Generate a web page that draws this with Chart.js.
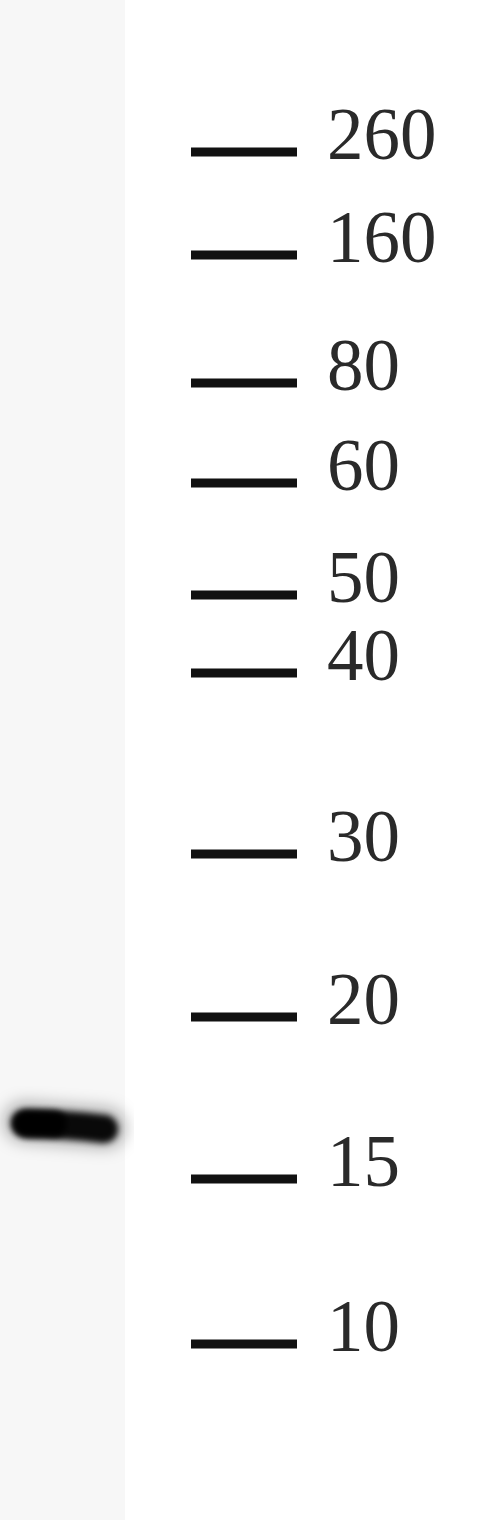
<!DOCTYPE html>
<html>
<head>
<meta charset="utf-8">
<script src="https://cdn.jsdelivr.net/npm/chart.js@4"></script>
<style>
  html, body { margin: 0; padding: 0; background: #fff; }
  #wrap { width: 499px; height: 1520px; position: relative; }
</style>
</head>
<body>
<div id="wrap"><canvas id="blot"></canvas></div>
<script>
// Marker ladder (kDa) and where each one ran on the membrane (px from top)
const markerLabels = ['260', '160', '80', '60', '50', '40', '30', '20', '15', '10'];
const markerMigration = [152, 255, 383, 483, 595, 673, 854, 1017, 1179, 1344];

// Sample lane: one band
const bandMigration = [1126];

// Layout of the lanes (px across the blot)
const sampleLaneX = 64;
const markerLaneX = 244;
const labelX = 327;

// Build a soft blurred blob for the band
function makeBandImage() {
  const c = document.createElement('canvas');
  c.width = 140;
  c.height = 80;
  const g = c.getContext('2d');
  g.lineCap = 'round';
  // halo
  g.filter = 'blur(8px)';
  g.strokeStyle = 'rgba(0,0,0,0.3)';
  g.lineWidth = 40;
  g.beginPath();
  g.moveTo(30, 36);
  g.lineTo(112, 42);
  g.stroke();
  // dark core
  g.filter = 'blur(3px)';
  g.strokeStyle = 'rgba(0,0,0,0.95)';
  g.lineWidth = 28;
  g.beginPath();
  g.moveTo(34, 38);
  g.quadraticCurveTo(70, 38, 110, 43);
  g.stroke();
  g.lineWidth = 26;
  g.beginPath();
  g.moveTo(30, 37);
  g.lineTo(60, 38);
  g.stroke();
  return c;
}

// Background + lane shading
const backdrop = {
  id: 'backdrop',
  beforeDatasetsDraw(chart) {
    const { ctx, scales: { x, y } } = chart;
    ctx.save();
    ctx.fillStyle = '#ffffff';
    ctx.fillRect(0, 0, chart.width, chart.height);
    ctx.fillStyle = '#f7f7f7';
    ctx.fillRect(x.getPixelForValue(0), y.getPixelForValue(0),
      x.getPixelForValue(125) - x.getPixelForValue(0),
      y.getPixelForValue(1520) - y.getPixelForValue(0));
    ctx.restore();
  }
};

// kDa labels next to the ladder
const ladderLabels = {
  id: 'ladderLabels',
  afterDatasetsDraw(chart) {
    const { ctx, scales: { x, y } } = chart;
    ctx.save();
    ctx.font = '73px "Liberation Serif", "DejaVu Serif", serif';
    ctx.fillStyle = '#2a2a2a';
    ctx.textAlign = 'left';
    ctx.textBaseline = 'alphabetic';
    markerLabels.forEach((lab, i) => {
      ctx.fillText(lab, x.getPixelForValue(labelX), y.getPixelForValue(markerMigration[i]) + 7);
    });
    ctx.restore();
  }
};

const chart = new Chart(document.getElementById('blot').getContext('2d'), {
  type: 'scatter',
  data: {
    datasets: [{
      label: 'Marker',
      data: markerMigration.map(m => ({ x: markerLaneX, y: m })),
      pointStyle: 'line',
      pointRadius: 53,
      pointHoverRadius: 53,
      borderColor: '#111111',
      pointBorderWidth: 9,
      borderWidth: 9,
      clip: false
    }, {
      label: 'Sample',
      data: bandMigration.map(m => ({ x: sampleLaneX, y: m })),
      pointStyle: makeBandImage(),
      pointRadius: 40,
      clip: false
    }]
  },
  options: {
    responsive: true,
    maintainAspectRatio: false,
    animation: false,
    layout: { padding: 0, autoPadding: false },
    scales: {
      x: { type: 'linear', min: 0, max: 499, display: false },
      y: { type: 'linear', min: 0, max: 1520, reverse: true, display: false }
    },
    plugins: {
      legend: { display: false },
      tooltip: { enabled: false }
    }
  },
  plugins: [backdrop, ladderLabels]
});
</script>
</body>
</html>
